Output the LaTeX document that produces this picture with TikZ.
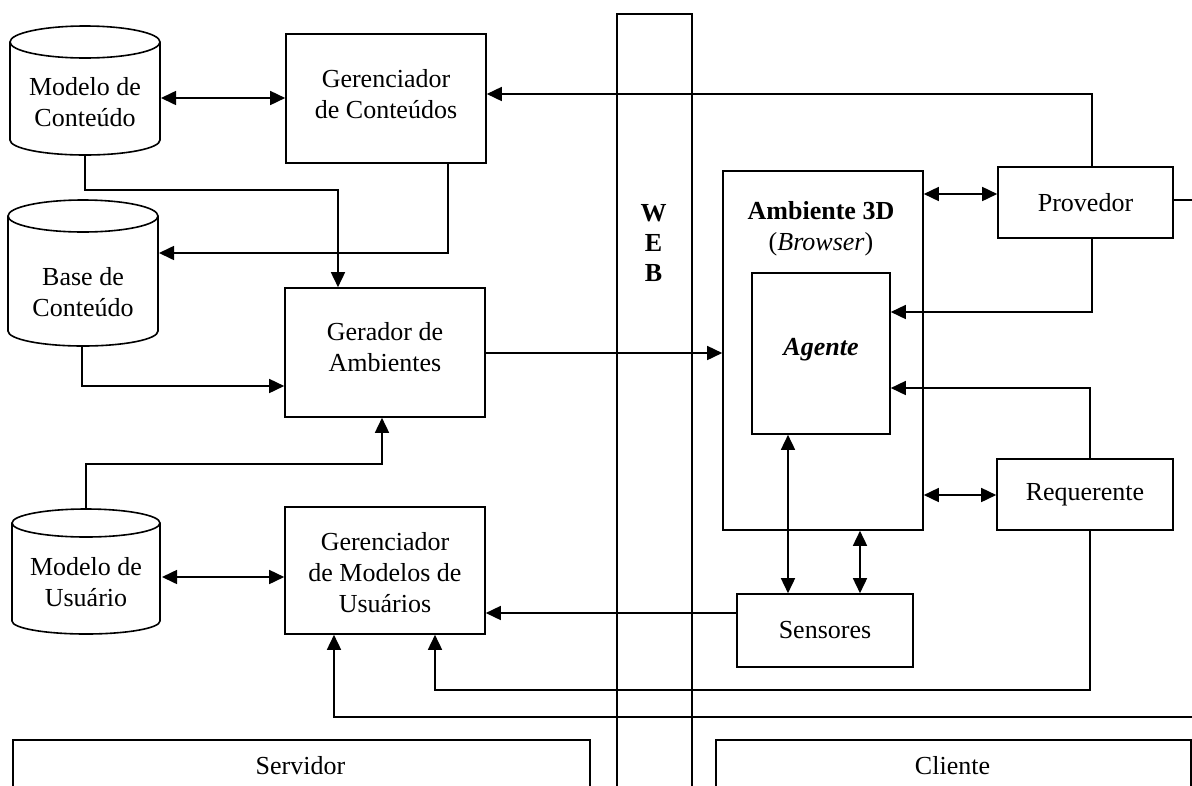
\documentclass[tikz,border=0pt]{standalone}
\usepackage{fontspec}
\setmainfont{Liberation Serif}
\usetikzlibrary{arrows.meta}
\begin{document}
\begin{tikzpicture}[x=1pt,y=-1pt,line width=1.6pt,
  box/.style={draw,line width=1.6pt,inner sep=0pt,align=center,font=\fontsize{26}{31}\selectfont},
  lbl/.style={align=center,inner sep=0pt,font=\fontsize{26}{31}\selectfont},
  arr/.style={-{Triangle[length=15pt,width=14pt]}},
  darr/.style={{Triangle[length=15pt,width=14pt]}-{Triangle[length=15pt,width=14pt]}}]
\useasboundingbox (0,0) rectangle (1192,785);

% cylinders
\draw (85,42) ellipse [x radius=75,y radius=16];
\draw (10,42) -- (10,140) .. controls (10,148.3) and (43.6,155) .. (85,155) .. controls (126.4,155) and (160,148.3) .. (160,140) -- (160,42);
\node[lbl] (c1t) at (85,102) {Modelo de\\Conteúdo};
\coordinate (c1e) at (161,98);
\coordinate (c1s) at (85,155);

\draw (83,216) ellipse [x radius=75,y radius=16];
\draw (8,216) -- (8,331) .. controls (8,339.3) and (41.6,346) .. (83,346) .. controls (124.4,346) and (158,339.3) .. (158,331) -- (158,216);
\node[lbl] (c2t) at (83,292.5) {Base de\\Conteúdo};
\coordinate (c2e) at (159,253);
\coordinate (c2s) at (82,347);

\draw (86,523) ellipse [x radius=74,y radius=14];
\draw (12,523) -- (12,621) .. controls (12,628.2) and (45.1,634) .. (86,634) .. controls (126.9,634) and (160,628.2) .. (160,621) -- (160,523);
\node[lbl] (c3t) at (86,582.5) {Modelo de\\Usuário};
\coordinate (c3e) at (162,577);
\coordinate (c3n) at (86,509);

% boxes
\node[box,minimum width=200pt,minimum height=129pt] (gc) at (386,98.5) {};
\node[lbl] (gct) at (386,94) {Gerenciador\\de Conteúdos};
\node[box,minimum width=200pt,minimum height=129pt] (ger) at (385,352.5) {};
\node[lbl] (gert) at (385,347) {Gerador de\\Ambientes};
\node[box,minimum width=200pt,minimum height=127pt] (gmu) at (385,570.5) {};
\node[lbl] (gmut) at (385,573) {Gerenciador\\de Modelos de\\Usuários};

\node[box,minimum width=75pt,minimum height=800pt,anchor=north west] (web) at (616,13) {};
\node[lbl,font=\fontsize{26}{30}\selectfont\bfseries] (webt) at (653.5,243) {W\\E\\B};

\node[box,minimum width=200pt,minimum height=359pt] (amb) at (823,350.5) {};
\node[lbl] (ambt) at (821,229) {\textbf{Ambiente 3D}\\(\textit{Browser})};
\node[box,minimum width=138pt,minimum height=161pt] (age) at (821,353.5) {};
\node[lbl] (aget) at (821,350) {\textbf{\textit{Agente}}};

\node[box,minimum width=175pt,minimum height=71pt] (prov) at (1085.5,202.5) {Provedor};
\node[box,minimum width=176pt,minimum height=71pt] (req) at (1085,494.5) {Requerente};
\node[box,minimum width=176pt,minimum height=73pt] (sen) at (825,630.5) {Sensores};

\node[box,minimum width=577pt,minimum height=80pt,anchor=north west] (srv) at (12,739) {};
\node[lbl] (srvt) at (300.5,766) {Servidor};
\node[box,minimum width=475pt,minimum height=80pt,anchor=north west] (cli) at (715,739) {};
\node[lbl] (clit) at (952.5,766) {Cliente};

% bend points
\coordinate (k1) at (1092,94);
\coordinate (k2) at (338,190);
\coordinate (k3) at (448,253);
\coordinate (k4) at (82,386);
\coordinate (k5) at (382,464);
\coordinate (k6) at (960,194);
\coordinate (k7) at (1092,312);
\coordinate (k8) at (1090,388);
\coordinate (k9) at (960,495);
\coordinate (k10) at (788,500);
\coordinate (k11) at (860,560);
\coordinate (k12) at (600,613);
\coordinate (k13) at (1090,690);
\coordinate (k14) at (435,690);
\coordinate (k15) at (1197,200);
\coordinate (k16) at (1197,717);
\coordinate (k17) at (334,717);
\coordinate (k18) at (600,353);

% connectors
\draw[darr] (c1e) -- (c1e -| gc.west);
\draw[arr] (prov.north -| k1) -- (k1) -- (k1 -| gc.east);
\draw[arr] (c1s) |- (k2) -- (k2 |- ger.north);
\draw[arr] (gc.south -| k3) -- (k3) -- (c2e);
\draw[arr] (c2s) -- (k4) -- (k4 -| ger.west);
\draw[arr] (c3n) |- (k5) -- (k5 |- ger.south);
\draw[darr] (c3e) -- (c3e -| gmu.west);
\draw[arr] (ger.east |- k18) -- (k18 -| amb.west);
\draw[darr] (k6 -| amb.east) -- (k6 -| prov.west);
\draw[arr] (prov.south -| k7) -- (k7) -- (k7 -| age.east);
\draw[arr] (req.north -| k8) -- (k8) -- (k8 -| age.east);
\draw[darr] (k9 -| amb.east) -- (k9 -| req.west);
\draw[darr] (age.south -| k10) -- (sen.north -| k10);
\draw[darr] (amb.south -| k11) -- (sen.north -| k11);
\draw[arr] (sen.west |- k12) -- (k12 -| gmu.east);
\draw[arr] (req.south -| k13) -- (k13) -- (k14) -- (k14 |- gmu.south);
\draw[arr] (prov.east |- k15) -- (k15) -- (k16) -- (k17) -- (k17 |- gmu.south);
\end{tikzpicture}
\end{document}
